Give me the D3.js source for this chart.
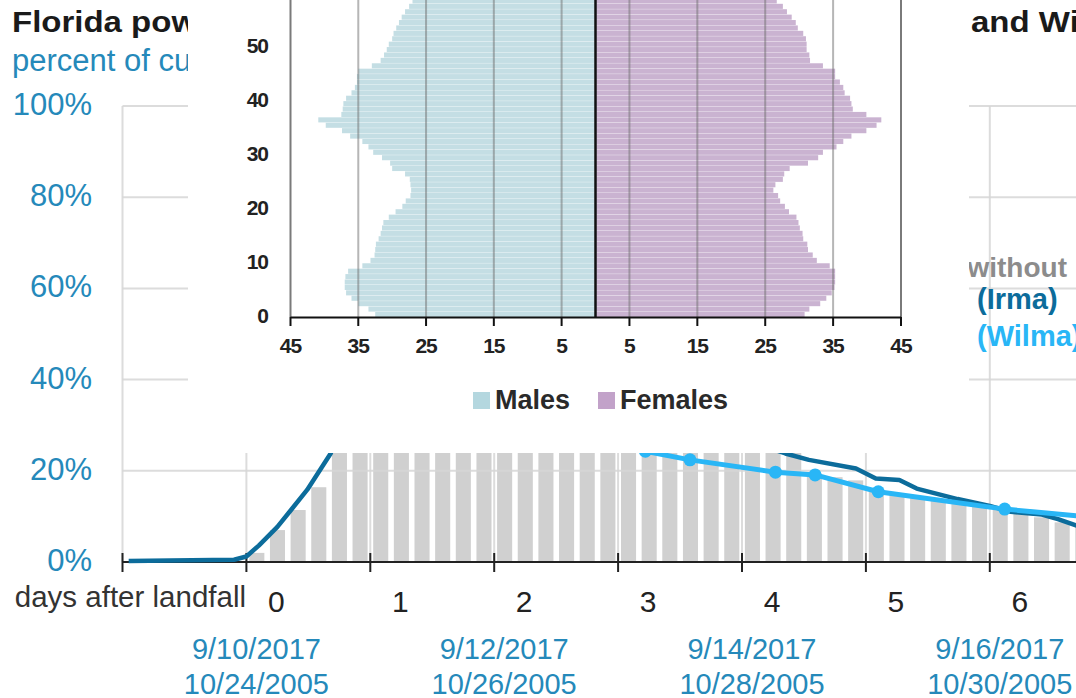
<!DOCTYPE html>
<html><head><meta charset="utf-8">
<script src="https://cdn.jsdelivr.net/npm/d3@7"></script>
<style>
body{margin:0;background:#fff;overflow:hidden;}
svg{display:block;font-family:"Liberation Sans",Arial,Helvetica,sans-serif;}
</style>
</head><body>
<svg id="chart" width="1076" height="698"></svg>
<script>
// ---------- main chart data ----------
const titleLeft = "Florida power";
const titleRight = "and Wilma";
const subtitle = "percent of cus";
const pctTicks = [0, 20, 40, 60, 80, 100];
const dayTicks = [-1, 0, 1, 2, 3, 4, 5, 6];
const dayLabels = ["0", "1", "2", "3", "4", "5", "6"];
const dateDays = [0, 2, 4, 6];
const datesIrma = ["9/10/2017", "9/12/2017", "9/14/2017", "9/16/2017"];
const datesWilma = ["10/24/2005", "10/26/2005", "10/28/2005", "10/30/2005"];
const xAxisTitle = "days after landfall";
const legendHead = "without";
const legendIrma = "(Irma)";
const legendWilma = "(Wilma)";

const irmaDays = [-0.95, -0.1, 0, 0.1, 0.25, 0.36, 0.49, 0.68, 0.9, 1.1, 1.3, 1.6, 2.0, 2.5, 3.0, 3.5, 4.0, 4.35, 4.54, 4.92, 5.08, 5.27, 5.41, 5.74, 6.0, 6.17, 6.42, 6.55, 6.72];
const irmaPct  = [0.2, 0.5, 1.2, 3.6, 7.7, 11.4, 15.8, 23.8, 40, 55, 62, 64, 58, 48, 38, 32, 27, 23.8, 22.4, 20.5, 18.3, 18.0, 16.1, 13.8, 12.3, 11.0, 10.4, 9.4, 7.8];

const wilmaDays = [0.45, 1.0, 1.6, 2.1, 2.6, 3.22, 3.58, 4.27, 4.59, 5.10, 6.12, 6.75];
const wilmaPct  = [41, 38, 33, 30, 27, 24.3, 22.4, 19.7, 19.1, 15.4, 11.6, 10.0];

// grey columns, one every 4 hours from landfall
const barPct = [2, 7, 11.4, 16.4, 28, 38, 48, 55, 60, 62, 63, 62, 60, 57, 54, 50, 46, 42, 39, 36, 33, 31, 29, 27.5, 26, 25,
                24.5, 19.4, 18.6, 17.9, 15.7, 14.9, 14.2, 13.5, 12.7, 12.3, 11.6, 10.5, 9.8, 8.7, 8.0];
const barsPerDay = 6;

// ---------- inset (population pyramid) data ----------
const males = [32.5,33.5,35,36,36.8,37,37,36.9,36.5,34.4,
               33.2,32.6,32.5,32.4,32,31.7,31.5,31.3,30.5,29.5,
               28.5,28,27.3,27.2,27.3,27.4,28.1,30,30.3,31.5,
               32.8,33.5,34.4,36.2,37.4,39.8,40.9,37.5,37.3,37.2,
               36.8,36,35.5,35.2,35.2,35,33,31.7,31.2,30.8,
               30.5,30,29.8,29.4,29,28.6,28.1,27.5,27,26.5,26];
const females = [30.8,31.5,33.1,34,34.8,35.2,35.3,35.3,35.3,34.5,
                 32.6,32,31.3,31.2,30.6,30.5,30.1,29.9,29.6,28.5,
                 27.9,27.2,26.9,26.2,26.5,27.6,27.8,28.6,31.3,32.8,
                 33.5,35.5,36.5,37.7,39.9,41.4,42.1,39.9,37.9,37.7,
                 37.5,36.7,36.5,36,35.3,35.3,33.5,31.6,31.5,31.1,
                 31.1,31,30.6,29.8,29.5,28.9,28.2,27.6,26.7,26,25.5];
const ages = d3.range(males.length);
const ageTicks = [0, 10, 20, 30, 40, 50];
const popTicks = [45, 35, 25, 15, 5];
const legendNames = ["Males", "Females"];

// ---------- colors ----------
const cIrma = "#0c6c9b", cWilma = "#29b6f6", cBlueText = "#2589ba";
const cMale = "#c4dee4", cFemale = "#cab3d1";
const cMaleKey = "#b4d7df", cFemaleKey = "#c2a2c9";

const svg = d3.select("#chart");
const defs = svg.append("defs");
defs.append("clipPath").attr("id", "leftClip").append("rect")
  .attr("x", 0).attr("y", 0).attr("width", 188).attr("height", 100);

// ================= MAIN CHART =================
const x = d3.scaleLinear().domain([-1, 7]).range([122.5, 1113.7]);
const y = d3.scaleLinear().domain([0, 100]).range([562, 106]);
const main = svg.append("g");

// vertical gridlines
main.append("g").selectAll("line").data(dayTicks).join("line")
  .attr("x1", d => x(d)).attr("x2", d => x(d))
  .attr("y1", y(100)).attr("y2", y(0))
  .attr("stroke", "#dcdcdc").attr("stroke-width", 2);

// grey columns
const step = x(1 / barsPerDay) - x(0);
main.append("g").selectAll("rect").data(barPct).join("rect")
  .attr("x", (d, i) => x(i / barsPerDay) + step * 0.14)
  .attr("width", step * 0.73)
  .attr("y", d => y(d))
  .attr("height", d => y(0) - y(d))
  .attr("fill", "#d0d0d0");

// horizontal gridlines
main.append("g").selectAll("line").data(pctTicks).join("line")
  .attr("x1", x(-1)).attr("x2", 1076)
  .attr("y1", d => y(d)).attr("y2", d => y(d))
  .attr("stroke", "#d6d6d6").attr("stroke-opacity", 0.85).attr("stroke-width", 2);

// y labels
main.append("g").selectAll("text").data(pctTicks).join("text")
  .attr("x", 92).attr("y", d => y(d) + 9)
  .attr("text-anchor", "end").attr("font-size", 31)
  .attr("fill", cBlueText).text(d => d + "%");

// x axis
main.append("line").attr("x1", x(-1)).attr("x2", 1076).attr("y1", y(0)).attr("y2", y(0))
  .attr("stroke", "#222").attr("stroke-width", 2);
main.append("g").selectAll("line").data(dayTicks).join("line")
  .attr("x1", d => x(d)).attr("x2", d => x(d))
  .attr("y1", y(0) - 9).attr("y2", y(0) + 10)
  .attr("stroke", "#222").attr("stroke-width", 2);

main.append("g").selectAll("text").data(dayLabels).join("text")
  .attr("x", d => x(+d) + 30).attr("y", 612)
  .attr("text-anchor", "middle").attr("font-size", 30).attr("fill", "#222")
  .text(d => d);
main.append("text").attr("x", 246).attr("y", 607).attr("text-anchor", "end")
  .attr("font-size", 29.5).attr("fill", "#333").text(xAxisTitle);

const dates = main.append("g").attr("fill", cBlueText).attr("font-size", 29).attr("text-anchor", "middle");
dates.selectAll("text.a").data(dateDays).join("text").attr("class", "a")
  .attr("x", d => x(d) + 10).attr("y", 659).text((d, i) => datesIrma[i]);
dates.selectAll("text.b").data(dateDays).join("text").attr("class", "b")
  .attr("x", d => x(d) + 10).attr("y", 694).text((d, i) => datesWilma[i]);

// lines
const line = d3.line().x(d => x(d[0])).y(d => y(d[1]));
const irma = irmaDays.map((d, i) => [d, irmaPct[i]]);
const wilma = wilmaDays.map((d, i) => [d, wilmaPct[i]]);
main.append("path").datum(irma).attr("d", line).attr("fill", "none")
  .attr("stroke", cIrma).attr("stroke-width", 4.5).attr("stroke-linejoin", "round");
main.append("path").datum(wilma).attr("d", line).attr("fill", "none")
  .attr("stroke", cWilma).attr("stroke-width", 5).attr("stroke-linejoin", "round");
main.append("g").selectAll("circle").data(wilma).join("circle")
  .attr("cx", d => x(d[0])).attr("cy", d => y(d[1])).attr("r", 6.5).attr("fill", cWilma);

// titles
const leftTexts = svg.append("g").attr("clip-path", "url(#leftClip)");
leftTexts.append("text").attr("transform", "translate(12,32) scale(1.1,1)").attr("font-size", 30).attr("font-weight", "bold")
  .attr("fill", "#1a1a1a").text(titleLeft);
leftTexts.append("text").attr("x", 12).attr("y", 71).attr("font-size", 31)
  .attr("fill", cBlueText).text(subtitle);
svg.append("text").attr("transform", "translate(971,32) scale(1.1,1)").attr("font-size", 30).attr("font-weight", "bold")
  .attr("fill", "#1a1a1a").text(titleRight);

// legend labels at right
svg.append("text").attr("x", 1067).attr("y", 277).attr("text-anchor", "end")
  .attr("font-size", 28).attr("font-weight", "bold").attr("fill", "#8c8c8c").text(legendHead);
svg.append("text").attr("x", 977).attr("y", 309).attr("font-size", 29).attr("font-weight", "bold")
  .attr("fill", cIrma).text(legendIrma);
svg.append("text").attr("x", 977).attr("y", 346).attr("font-size", 29).attr("font-weight", "bold")
  .attr("fill", cWilma).text(legendWilma);

// ================= INSET =================
const inset = svg.append("g");
inset.append("rect").attr("x", 188).attr("y", -10).attr("width", 781).attr("height", 463).attr("fill", "#fff");

const xm = d3.scaleLinear().domain([45, 0]).range([290.5, 595.5]);
const xf = d3.scaleLinear().domain([0, 45]).range([595.5, 901]);
const ya = d3.scaleBand().domain(ages).range([317, 317 - 5.4 * ages.length]).paddingInner(0.06);

const plotTop = -10, plotBottom = 317;
inset.append("g").selectAll("rect").data(ages).join("rect")
  .attr("x", a => xm(males[a])).attr("width", a => xm(0) - xm(males[a]))
  .attr("y", a => ya(a)).attr("height", ya.bandwidth()).attr("fill", cMale);
inset.append("g").selectAll("rect").data(ages).join("rect")
  .attr("x", xf(0)).attr("width", a => xf(females[a]) - xf(0))
  .attr("y", a => ya(a)).attr("height", ya.bandwidth()).attr("fill", cFemale);

// gridlines over bars
const grid = inset.append("g").attr("stroke", "#6e6e6e").attr("stroke-opacity", 0.5).attr("stroke-width", 2);
grid.selectAll("line.m").data(popTicks.slice(1)).join("line").attr("class", "m")
  .attr("x1", d => xm(d)).attr("x2", d => xm(d)).attr("y1", plotTop).attr("y2", plotBottom);
grid.selectAll("line.f").data(popTicks.slice(1)).join("line").attr("class", "f")
  .attr("x1", d => xf(d)).attr("x2", d => xf(d)).attr("y1", plotTop).attr("y2", plotBottom);
// borders
inset.append("g").selectAll("line").data([xm(45), xf(45)]).join("line")
  .attr("x1", d => d).attr("x2", d => d).attr("y1", plotTop).attr("y2", plotBottom)
  .attr("stroke", "#7a7a7a").attr("stroke-width", 2);
// center line
inset.append("line").attr("x1", xm(0)).attr("x2", xm(0)).attr("y1", plotTop).attr("y2", plotBottom)
  .attr("stroke", "#111").attr("stroke-width", 2.5);
// x axis
inset.append("line").attr("x1", xm(45)).attr("x2", xf(45)).attr("y1", plotBottom + 0.5).attr("y2", plotBottom + 0.5)
  .attr("stroke", "#111").attr("stroke-width", 2);
const tickPos = popTicks.map(v => xm(v)).concat(popTicks.slice().reverse().map(v => xf(v)));
const tickLab = popTicks.concat(popTicks.slice().reverse());
inset.append("g").selectAll("line").data(tickPos).join("line")
  .attr("x1", d => d).attr("x2", d => d).attr("y1", plotBottom).attr("y2", plotBottom + 9)
  .attr("stroke", "#111").attr("stroke-width", 2);
inset.append("g").selectAll("text").data(tickPos).join("text")
  .attr("x", d => d).attr("y", 353).attr("text-anchor", "middle")
  .attr("font-size", 21).attr("font-weight", "bold").attr("letter-spacing", -1).attr("fill", "#222")
  .text((d, i) => tickLab[i]);
// age labels
inset.append("g").selectAll("text").data(ageTicks).join("text")
  .attr("x", 268).attr("y", a => ya(a) + ya.bandwidth() / 2 + 8.5).attr("text-anchor", "end")
  .attr("font-size", 21).attr("font-weight", "bold").attr("letter-spacing", -1).attr("fill", "#222")
  .text(a => a);

// legend
const lg = inset.append("g");
const keyX = [473, 598];
lg.selectAll("rect").data(legendNames).join("rect")
  .attr("x", (d, i) => keyX[i]).attr("y", 392).attr("width", 17).attr("height", 17)
  .attr("fill", (d, i) => i ? cFemaleKey : cMaleKey);
lg.selectAll("text").data(legendNames).join("text")
  .attr("x", (d, i) => keyX[i] + 22).attr("y", 409)
  .attr("font-size", 27).attr("font-weight", "bold").attr("fill", "#2a2a2a")
  .text(d => d);
</script>
</body></html>
